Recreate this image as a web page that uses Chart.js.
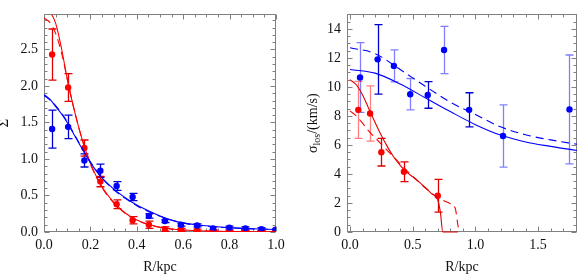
<!DOCTYPE html>
<html>
<head>
<meta charset="utf-8">
<script src="https://cdn.jsdelivr.net/npm/chart.js@4.4.1/dist/chart.umd.min.js"></script>
<style>
  body { margin: 0; background: #fff; }
  #wrap { position: relative; width: 581px; height: 278px; }
  canvas { position: absolute; top: 0; }
</style>
</head>
<body>
<div id="wrap">
  <canvas id="cSig" width="290" height="278" style="left:0"></canvas>
  <canvas id="cLos" width="291" height="278" style="left:290px"></canvas>
</div>
<script>
// ---- left panel: surface density ----
const sigR = [0.035, 0.104, 0.174, 0.243, 0.313, 0.382, 0.452, 0.521, 0.59, 0.66, 0.729, 0.799, 0.868, 0.937, 0.998];
const sigRed = [2.43, 1.98, 1.15, 0.69, 0.38, 0.16, 0.10, 0.04, 0.03, 0.02, 0.02, 0.01, 0.01, 0.01, 0.01];
const sigRedErr = [0.35, 0.19, 0.11, 0.07, 0.06, 0.05, 0.05, 0.03, 0.02, 0.02, 0.01, 0.01, 0.01, 0.01, 0.01];
const sigBlue = [1.41, 1.44, 0.98, 0.84, 0.63, 0.48, 0.22, 0.15, 0.10, 0.09, 0.05, 0.06, 0.05, 0.04, 0.03];
const sigBlueErr = [0.26, 0.16, 0.09, 0.09, 0.06, 0.05, 0.03, 0.02, 0.02, 0.02, 0.02, 0.02, 0.02, 0.02, 0.02];

const sigCurveR = [0, 0.025, 0.05, 0.075, 0.1, 0.125, 0.15, 0.175, 0.2, 0.25, 0.3, 0.35, 0.4, 0.45, 0.5, 0.55, 0.6, 0.7, 0.8, 0.9, 1.0];
const sigRedFit = [3.1, 3.02, 2.86, 2.52, 2.1, 1.74, 1.43, 1.16, 0.94, 0.62, 0.41, 0.26, 0.165, 0.105, 0.065, 0.042, 0.028, 0.013, 0.007, 0.004, 0.003];
const sigRedFit2 = [2.93, 2.87, 2.72, 2.46, 2.1, 1.74, 1.43, 1.16, 0.93, 0.61, 0.40, 0.255, 0.16, 0.1, 0.063, 0.04, 0.027, 0.012, 0.006, 0.004, 0.003];
const sigBlueFit = [1.88, 1.82, 1.72, 1.62, 1.50, 1.36, 1.22, 1.08, 0.95, 0.74, 0.59, 0.47, 0.37, 0.29, 0.22, 0.165, 0.125, 0.085, 0.06, 0.045, 0.035];
const sigBlueFit2 = [1.87, 1.81, 1.73, 1.63, 1.51, 1.37, 1.23, 1.09, 0.96, 0.74, 0.58, 0.46, 0.36, 0.28, 0.215, 0.16, 0.12, 0.08, 0.057, 0.043, 0.034];

// ---- right panel: line-of-sight dispersion ----
const losBlueR = [0.08, 0.22, 0.35, 0.48, 0.62, 0.75, 0.95, 1.22, 1.75];
const losBlue = [10.65, 11.9, 11.45, 9.5, 9.45, 12.55, 8.42, 6.62, 8.45];
const losBlueErr = [2.4, 2.4, 1.1, 1.08, 0.92, 1.63, 1.18, 2.15, 3.75];
const losRedR = [0.066, 0.16, 0.25, 0.43, 0.70];
const losRed = [8.42, 8.17, 5.5, 4.15, 2.5];
const losRedErr = [1.97, 1.9, 0.95, 0.68, 1.13];

const losBlueFitR = [0, 0.2, 0.4, 0.6, 0.8, 1.0, 1.2, 1.4, 1.6, 1.81];
const losBlueFit = [11.2, 10.95, 10.2, 9.25, 8.3, 7.4, 6.68, 6.2, 5.9, 5.62];
const losBlueFit2 = [12.7, 12.3, 11.2, 10.05, 8.95, 8.1, 7.25, 6.7, 6.35, 6.05];
const losRedFitR = [0, 0.05, 0.1, 0.15, 0.2, 0.25, 0.3, 0.35, 0.4, 0.45, 0.5, 0.55, 0.6, 0.65, 0.7, 0.72, 0.74, 0.86];
const losRedFit = [10.5, 10.15, 9.45, 8.5, 7.55, 6.65, 5.85, 5.15, 4.6, 4.15, 3.8, 3.45, 3.05, 2.65, 2.2, 1.4, 0, 0];
const losRedFit2R = [0, 0.05, 0.1, 0.15, 0.2, 0.25, 0.3, 0.35, 0.4, 0.45, 0.5, 0.55, 0.6, 0.65, 0.7, 0.75, 0.8, 0.84, 0.86, 0.87];
const losRedFit2 = [8.35, 8.0, 7.5, 6.95, 6.5, 6.05, 5.6, 5.15, 4.7, 4.25, 3.85, 3.45, 3.05, 2.7, 2.35, 2.15, 1.95, 1.6, 0.5, 0];

// which error bars look faded in the picture
const losBlueFaint = [1, 0, 1, 1, 0, 1, 0, 1, 1];
const losRedFaint = [1, 1, 0, 0, 0];

const FONT = "'Liberation Serif', 'DejaVu Serif', serif";
const RED = "#ff0000";
const BLUE = "#0000ff";

const pts = (xs, ys) => xs.map((x, i) => ({ x: x, y: ys[i] }));

const points = (xs, ys, errs, color, faint) => ({
  data: pts(xs, ys),
  errors: errs,
  faint: faint,
  showLine: false,
  pointRadius: 3.2,
  pointHoverRadius: 3.2,
  pointBackgroundColor: color,
  pointBorderWidth: 0,
  borderColor: color,
});

const curve = (xs, ys, color, dashed, clipBottom) => ({
  data: pts(xs, ys),
  showLine: true,
  borderColor: color,
  borderWidth: 1.1,
  borderDash: dashed ? [8, 5] : [],
  pointRadius: 0,
  cubicInterpolationMode: "monotone",
  clip: { left: 0, top: 0, right: 0, bottom: clipBottom ? 2 : 0 },
});

// vertical error bars with caps, positioned through the chart scales
const errorBars = {
  id: "errorBars",
  beforeDatasetsDraw(chart) {
    const { ctx, chartArea: a, scales: { x, y } } = chart;
    ctx.save();
    ctx.beginPath();
    ctx.rect(a.left, a.top, a.right - a.left, a.bottom - a.top);
    ctx.clip();
    ctx.lineWidth = 1.3;
    chart.data.datasets.forEach((ds) => {
      if (!ds.errors) return;
      const dark = ds.borderColor === RED ? "rgb(225,0,0)" : "rgb(0,0,205)";
      const light = ds.borderColor === RED ? "rgba(255,0,0,0.5)" : "rgba(0,0,255,0.5)";
      ds.data.forEach((p, i) => {
        const e = ds.errors[i];
        const px = Math.round(x.getPixelForValue(p.x)) + 0.5;
        const y1 = y.getPixelForValue(p.y + e);
        const y2 = y.getPixelForValue(p.y - e);
        ctx.strokeStyle = ds.faint && ds.faint[i] ? light : dark;
        ctx.beginPath();
        ctx.moveTo(px, y1); ctx.lineTo(px, y2);
        ctx.moveTo(px - 4, y1); ctx.lineTo(px + 4, y1);
        ctx.moveTo(px - 4, y2); ctx.lineTo(px + 4, y2);
        ctx.stroke();
      });
    });
    ctx.restore();
  },
};

// Mathematica-style frame with inward ticks on all four sides
const steps = (lo, hi, d) => {
  const out = [];
  for (let k = Math.ceil(lo / d - 1e-9); k * d <= hi + 1e-9; k++) out.push(k * d);
  return out;
};
const isMul = (v, d) => Math.abs(v / d - Math.round(v / d)) < 1e-6;

const frame = {
  id: "frame",
  beforeDatasetsDraw(chart, args, o) {
    const { ctx, chartArea: a, scales: { x, y } } = chart;
    const L = Math.round(a.left) + 0.5, R = Math.round(a.right) - 0.5;
    const T = Math.round(a.top) + 0.5, B = Math.round(a.bottom) - 0.5;
    ctx.save();
    ctx.strokeStyle = "#808080";
    ctx.lineWidth = 1;
    ctx.strokeRect(L, T, R - L, B - T);
    ctx.beginPath();
    steps(x.min, x.max, o.xMinor).forEach((v) => {
      const px = Math.round(x.getPixelForValue(v)) + 0.5;
      const len = isMul(v, o.xMajor) ? 5 : 3;
      ctx.moveTo(px, B); ctx.lineTo(px, B - len);
      ctx.moveTo(px, T); ctx.lineTo(px, T + len);
    });
    steps(y.min, y.max, o.yMinor).forEach((v) => {
      const py = Math.round(y.getPixelForValue(v)) + 0.5;
      const len = isMul(v, o.yMajor) ? 5 : 3;
      ctx.moveTo(L, py); ctx.lineTo(L + len, py);
      ctx.moveTo(R, py); ctx.lineTo(R - len, py);
    });
    ctx.stroke();
    ctx.restore();
  },
  afterDraw(chart, args, o) {
    if (!o.yTitle) return;
    const { ctx, chartArea: a } = chart;
    // sigma with subscript "los"
    ctx.save();
    ctx.translate(o.yTitleX, (a.top + a.bottom) / 2);
    ctx.rotate(-Math.PI / 2);
    ctx.fillStyle = "#111";
    ctx.textBaseline = "alphabetic";
    const big = "14px " + FONT, small = "10px " + FONT;
    ctx.font = big;
    const w1 = ctx.measureText("σ").width;
    const w3 = ctx.measureText("/(km/s)").width;
    ctx.font = small;
    const w2 = ctx.measureText("los").width;
    let cx = -(w1 + w2 + w3) / 2;
    ctx.font = big;
    ctx.fillText("σ", cx, 5);
    cx += w1;
    ctx.font = small;
    ctx.fillText("los", cx, 8);
    cx += w2;
    ctx.font = big;
    ctx.fillText("/(km/s)", cx, 5);
    ctx.restore();
  },
};

const axis = (min, max, step, digits, fit, extra) => Object.assign({
  type: "linear",
  min: min,
  max: max,
  grid: { display: false, drawTicks: false },
  border: { display: false },
  ticks: {
    stepSize: step,
    includeBounds: false,
    color: "#111",
    font: { family: FONT, size: 14 },
    callback: (v) => (isMul(v, step) ? Number(v).toFixed(digits) : ""),
  },
  afterFit: fit,
}, extra);

const baseOptions = (padRight) => ({
  responsive: false,
  animation: false,
  devicePixelRatio: 1,
  layout: { padding: { left: 0, right: padRight, top: 1, bottom: 0 } },
  plugins: { legend: { display: false }, tooltip: { enabled: false } },
});

let plotSig = undefined;
let plotLos = undefined;

const make_sigma = () => {
  const opts = baseOptions(14);
  opts.plugins.frame = { xMinor: 0.05, xMajor: 0.2, yMinor: 0.1, yMajor: 0.5 };
  opts.scales = {
    x: axis(0, 1, 0.2, 1, (s) => { s.height = 46; }, {
      title: { display: true, text: "R/kpc", color: "#111", font: { family: FONT, size: 14 }, padding: { top: 0, bottom: 2 } },
    }),
    y: axis(0, 2.98, 0.5, 1, (s) => { s.width = 44; }, {
      title: { display: true, text: "Σ", color: "#111", font: { family: FONT, size: 15, lineHeight: 1 }, padding: { top: -3, bottom: 0 } },
    }),
  };
  opts.scales.x.ticks.padding = 5;
  opts.scales.y.ticks.padding = 6;
  plotSig = new Chart(document.getElementById("cSig").getContext("2d"), {
    type: "scatter",
    data: {
      datasets: [
        curve(sigCurveR, sigBlueFit, BLUE, false, false),
        curve(sigCurveR, sigBlueFit2, BLUE, true, false),
        curve(sigCurveR, sigRedFit, RED, false, false),
        curve(sigCurveR, sigRedFit2, RED, true, false),
        points(sigR, sigBlue, sigBlueErr, BLUE, null),
        points(sigR, sigRed, sigRedErr, RED, null),
      ],
    },
    options: opts,
    plugins: [frame, errorBars],
  });
};

const make_los = () => {
  const opts = baseOptions(4);
  opts.plugins.frame = { xMinor: 0.1, xMajor: 0.5, yMinor: 0.5, yMajor: 2, yTitle: true, yTitleX: 22 };
  opts.scales = {
    x: axis(-0.024, 1.81, 0.5, 1, (s) => { s.height = 46; }, {
      title: { display: true, text: "R/kpc", color: "#111", font: { family: FONT, size: 14 }, padding: { top: 0, bottom: 2 } },
    }),
    y: axis(0, 15, 2, 0, (s) => { s.width = 57; }),
  };
  opts.scales.x.ticks.padding = 5;
  opts.scales.y.ticks.padding = 6;
  plotLos = new Chart(document.getElementById("cLos").getContext("2d"), {
    type: "scatter",
    data: {
      datasets: [
        curve(losBlueFitR, losBlueFit, BLUE, false, false),
        curve(losBlueFitR, losBlueFit2, BLUE, true, false),
        curve(losRedFitR, losRedFit, "#e00000", false, true),
        curve(losRedFit2R, losRedFit2, RED, true, true),
        points(losBlueR, losBlue, losBlueErr, BLUE, losBlueFaint),
        points(losRedR, losRed, losRedErr, RED, losRedFaint),
      ],
    },
    options: opts,
    plugins: [frame, errorBars],
  });
};

make_sigma();
make_los();
</script>
</body>
</html>
